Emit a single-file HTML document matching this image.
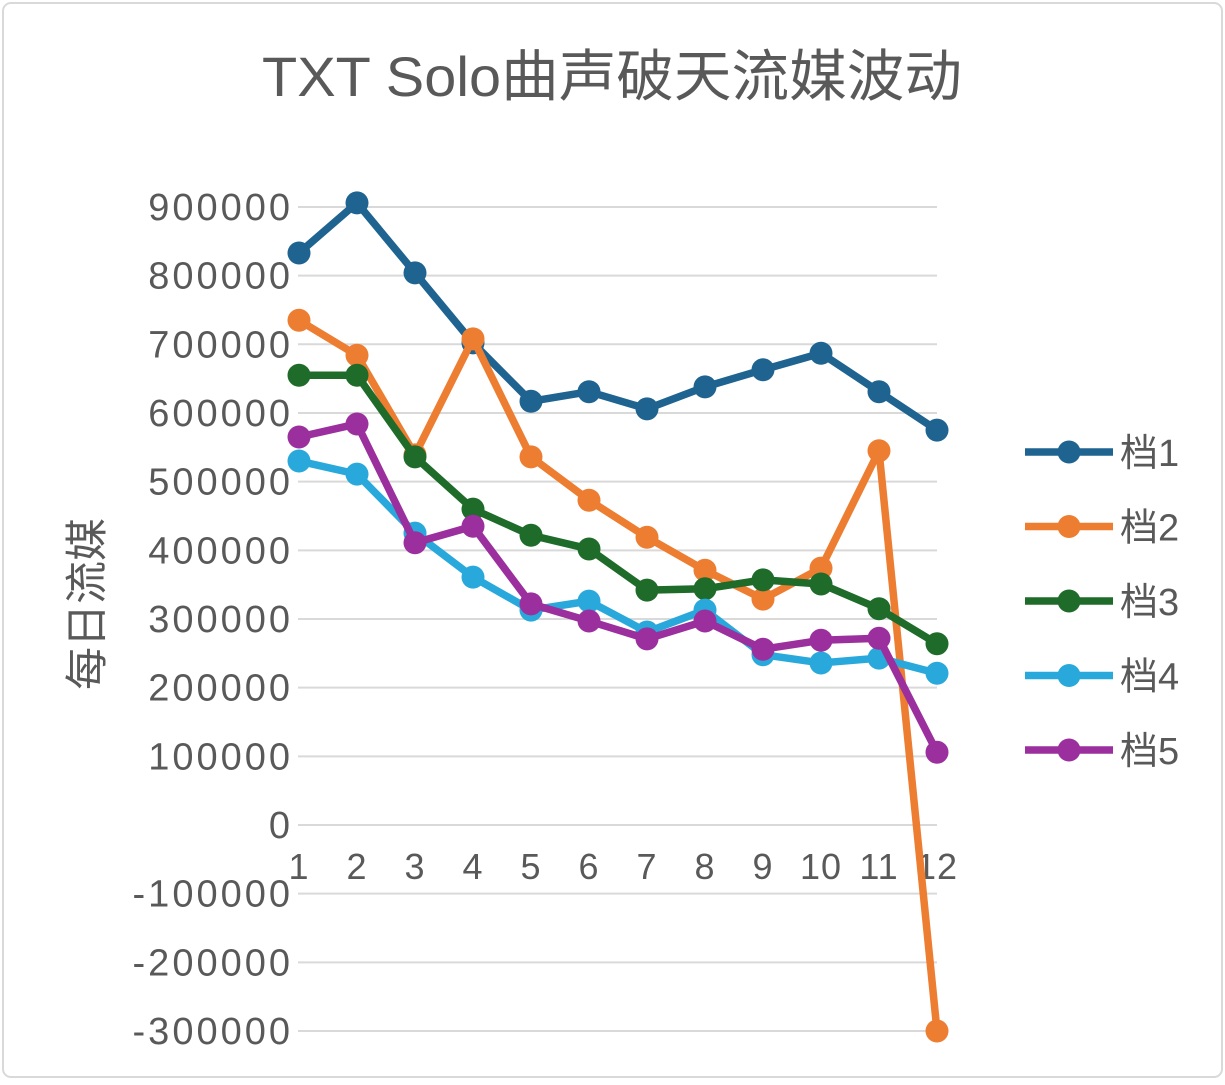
<!DOCTYPE html>
<html><head><meta charset="utf-8">
<style>
html,body{margin:0;padding:0;background:#fff;}
body{width:1225px;height:1080px;overflow:hidden;}
svg text{font-family:"Liberation Sans","Noto Sans CJK SC",sans-serif;}
</style></head>
<body>
<svg id="chart" width="1225" height="1080" xmlns="http://www.w3.org/2000/svg">
<rect x="3" y="3" width="1219" height="1074" rx="8" fill="#fff" stroke="#d9d9d9" stroke-width="2"/>
<text x="262" y="96" font-size="56" textLength="700" lengthAdjust="spacingAndGlyphs" fill="#595959">TXT Solo曲声破天流媒波动</text>
<text transform="translate(102,604) rotate(-90)" text-anchor="middle" font-size="43" fill="#595959">每日流媒</text>
<g id="grid"></g><g id="yticks"></g><g id="xticks"></g><g id="series"></g><g id="legend"></g>
</svg>
<script>
const categories = [1,2,3,4,5,6,7,8,9,10,11,12];
const yTicks = [900000,800000,700000,600000,500000,400000,300000,200000,100000,0,-100000,-200000,-300000];
const seriesNames = ["档1","档2","档3","档4","档5"];
const s1 = [833000,906000,804000,702000,617000,631000,606000,638000,663000,687000,631000,575000];
const s2 = [735000,684000,539000,708000,536000,473000,419000,371000,329000,374000,545000,-300000];
const s3 = [655000,655000,536000,460000,422000,402000,342000,344000,357000,351000,315000,264000];
const s4 = [530000,511000,425000,361000,313000,326000,281000,313000,248000,236000,243000,221000];
const s5 = [565000,584000,411000,435000,322000,297000,271000,297000,256000,269000,272000,106000];
const allSeries = [s1,s2,s3,s4,s5];
const colors = ["#1f6391","#ed7d31","#1e6b2a","#29a9db","#9b2f9e"];
const NS="http://www.w3.org/2000/svg";
const X0=299, XSTEP=58, Y0=825, YPER=68.67/100000;
const xs = i => X0 + i*XSTEP;
const ys = v => Y0 - v*YPER;
function mk(tag,attrs,parent){const e=document.createElementNS(NS,tag);for(const k in attrs)e.setAttribute(k,attrs[k]);parent.appendChild(e);return e;}
const grid=document.getElementById('grid'), yt=document.getElementById('yticks'), xt=document.getElementById('xticks'), sg=document.getElementById('series'), lg=document.getElementById('legend');
yTicks.forEach(v=>{
  const l=mk('line',{x1:298,x2:937,y1:ys(v),y2:ys(v),stroke:'#d9d9d9','stroke-width':2},grid);
  
  
  const t=mk('text',{x:293,y:ys(v)+13,'text-anchor':'end','font-size':38,'letter-spacing':3,fill:'#595959'},yt);
  t.textContent=v;
  
  
});
categories.forEach((c,i)=>{
  const t=mk('text',{x:xs(i),y:879,'text-anchor':'middle','font-size':36,'letter-spacing':1,fill:'#595959'},xt);
  t.textContent=c;
  
  
});
allSeries.forEach((d,si)=>{
  const g=mk('g',{},sg);
  
  
  const pts=d.map((v,i)=>xs(i)+','+ys(v)).join(' ');
  const pl=mk('polyline',{points:pts,fill:'none',stroke:colors[si],'stroke-width':7.5,'stroke-linejoin':'round'},g);
  
  
  d.forEach((v,i)=>{
    const c=mk('circle',{cx:xs(i),cy:ys(v),r:11.5,fill:colors[si]},g);
    
    
  });
  const ly=452+si*74.5;
  const lgI=mk('g',{},lg);
  
  
  mk('line',{x1:1025,x2:1113,y1:ly,y2:ly,stroke:colors[si],'stroke-width':7.5},lgI);
  mk('circle',{cx:1069,cy:ly,r:11.5,fill:colors[si]},lgI);
  const t=mk('text',{x:1120,y:ly+14,'font-size':38,fill:'#595959'},lgI);
  t.textContent=seriesNames[si];
});
</script>
</body></html>
